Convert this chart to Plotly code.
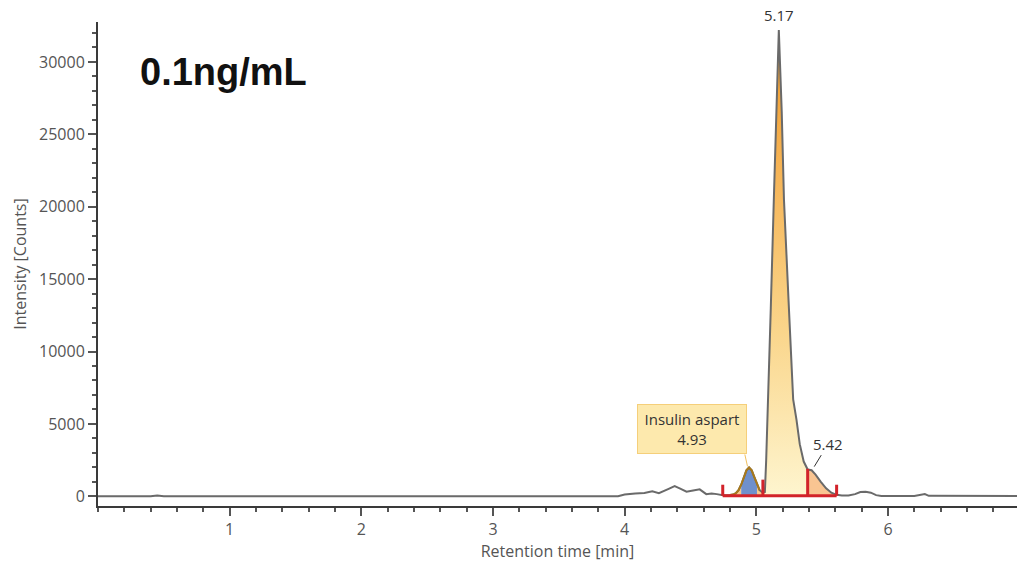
import numpy as np
import plotly.graph_objects as go

# ---- chromatogram data (retention time [min], intensity [counts]) ----
rt = [0.00, 0.40, 0.45, 0.50, 3.95, 4.00, 4.08, 4.15, 4.21, 4.26, 4.33, 4.38, 4.43, 4.47,
      4.52, 4.57, 4.62, 4.66, 4.70, 4.745, 4.80, 4.825, 4.845, 4.865, 4.885, 4.905, 4.925,
      4.945, 4.965, 4.985, 5.005, 5.025, 5.05, 5.065, 5.075, 5.09, 5.11, 5.133, 5.15, 5.171,
      5.193, 5.21, 5.245, 5.28, 5.305, 5.33, 5.36, 5.39, 5.42, 5.45, 5.49, 5.53, 5.57, 5.61,
      5.65, 5.70, 5.75, 5.79, 5.83, 5.87, 5.91, 5.95, 6.20, 6.25, 6.28, 6.31, 6.98]
intensity = [0, 0, 60, 0, 0, 120, 200, 230, 350, 220, 500, 700, 500, 320,
             400, 480, 150, 200, 150, 80, 90, 120, 210, 420, 800, 1320, 1790,
             1990, 1790, 1320, 800, 420, 260, 300, 2500, 6700, 13000, 20500, 26600, 32200,
             26600, 20500, 13500, 6700, 5300, 3600, 2400, 1850, 1800, 1500, 1000, 550, 250, 100,
             60, 50, 150, 300, 310, 250, 80, 20, 20, 120, 150, 30, 20]

# integration boundaries and their marker heights
bounds = [4.745, 5.05, 5.39, 5.61]
bound_tops = [800, 1150, 1900, 800]
baseline_level = 40

# peak labels
peak_main_rt, peak_main_I = 5.171, 32200
peak_ins_rt, peak_ins_I = 4.945, 1990
peak_small_rt, peak_small_I = 5.42, 1800

x_ticks = [1, 2, 3, 4, 5, 6]
y_ticks = [0, 5000, 10000, 15000, 20000, 25000, 30000]

rt_a = np.array(rt)
I_a = np.array(intensity)


def seg(a, b):
    m = (rt_a >= a - 1e-9) & (rt_a <= b + 1e-9)
    return rt_a[m], I_a[m]


fig = go.Figure()

# fills
for (a, b, col) in [(4.745, 4.885, "#f8c98c"), (5.005, 5.05, "#f8c98c"),
                    (5.39, 5.61, "#f9c592")]:
    x, y = seg(a, b)
    fig.add_trace(go.Scatter(x=x, y=y, mode="lines", line=dict(width=0),
                             fill="tozeroy", fillcolor=col, hoverinfo="skip"))
x, y = seg(4.885, 5.005)
fig.add_trace(go.Scatter(x=x, y=y, mode="lines", line=dict(width=0),
                         fill="tozeroy", fillcolor="#6f90cc", hoverinfo="skip"))
x, y = seg(5.05, 5.39)
fig.add_trace(go.Scatter(x=x, y=y, mode="lines", line=dict(width=0),
                         fill="tozeroy",
                         fillgradient=dict(type="vertical", start=0, stop=peak_main_I,
                                           colorscale=[[0, "#fef5cf"], [0.35, "#fad68c"],
                                                       [0.7, "#f6b456"], [1, "#f19a27"]]),
                         hoverinfo="skip"))

# main trace
fig.add_trace(go.Scatter(x=rt, y=intensity, mode="lines",
                         line=dict(color="#6a6a6a", width=2), hoverinfo="skip"))
# insulin peak outline
x, y = seg(4.80, 5.045)
fig.add_trace(go.Scatter(x=x, y=y, mode="lines",
                         line=dict(color="#a9791a", width=2), hoverinfo="skip"))

# red integration baseline and markers
rx, ry = [bounds[0], bounds[-1], None], [baseline_level, baseline_level, None]
for b, t in zip(bounds, bound_tops):
    rx += [b, b, None]
    ry += [baseline_level, t, None]
fig.add_trace(go.Scatter(x=rx, y=ry, mode="lines",
                         line=dict(color="#d2232a", width=3), hoverinfo="skip"))

# annotations
fig.add_annotation(x=peak_main_rt, y=peak_main_I, text="5.17", showarrow=False,
                   yshift=15, font=dict(family="Open Sans", size=15, color="#333333"))
fig.add_annotation(x=peak_small_rt + 0.02, y=peak_small_I + 250, text="5.42",
                   showarrow=True, arrowhead=0, arrowwidth=1, arrowcolor="#333333",
                   ax=14, ay=-23, standoff=0,
                   font=dict(family="Open Sans", size=15, color="#333333"))
fig.add_annotation(x=peak_ins_rt, y=peak_ins_I, text="Insulin aspart<br>4.93",
                   showarrow=False, xshift=-57, yshift=38,
                   bgcolor="#fde9ad", bordercolor="#f5cf7a", borderwidth=1,
                   borderpad=2, width=104, height=44,
                   font=dict(family="Open Sans", size=15, color="#333333"))
fig.add_shape(type="line", x0=peak_ins_rt - 0.012, y0=peak_ins_I + 80,
              x1=peak_ins_rt - 0.032, y1=peak_ins_I + 900,
              line=dict(color="#f0c060", width=1))
fig.add_annotation(xref="paper", yref="paper", x=0.0435, y=0.897, xanchor="left",
                   yanchor="middle", text="<b>0.1ng/mL</b>", showarrow=False,
                   font=dict(family="Liberation Sans, Arial", size=38, color="#111111"))

fig.update_layout(
    width=1017, height=564,
    margin=dict(l=98, r=0, t=22, b=58),
    paper_bgcolor="white", plot_bgcolor="white",
    showlegend=False,
    font=dict(family="Open Sans", size=16, color="#555555"),
)
fig.update_xaxes(range=[0, 6.98], tickvals=x_ticks, ticks="outside", ticklen=8,
                 tickwidth=1.5, tickcolor="#555555", showline=True, linecolor="#3a3a3a",
                 linewidth=2, showgrid=False, zeroline=False,
                 minor=dict(dtick=0.2, ticks="outside", ticklen=4, tickcolor="#555555"),
                 title=dict(text="Retention time [min]", standoff=6,
                            font=dict(size=16, color="#555555")),
                 tickfont=dict(size=16, color="#555555"))
fig.update_yaxes(range=[-670, 32760], tickvals=y_ticks, tickformat="d", ticks="outside",
                 ticklen=8, tickwidth=1.5, tickcolor="#555555", showline=True,
                 linecolor="#3a3a3a", linewidth=2, showgrid=False, zeroline=False,
                 minor=dict(dtick=1000, ticks="outside", ticklen=4, tickcolor="#555555"),
                 title=dict(text="Intensity [Counts]", standoff=8,
                            font=dict(size=16, color="#555555")),
                 tickfont=dict(size=16, color="#555555"))

fig.write_html("out.html")
